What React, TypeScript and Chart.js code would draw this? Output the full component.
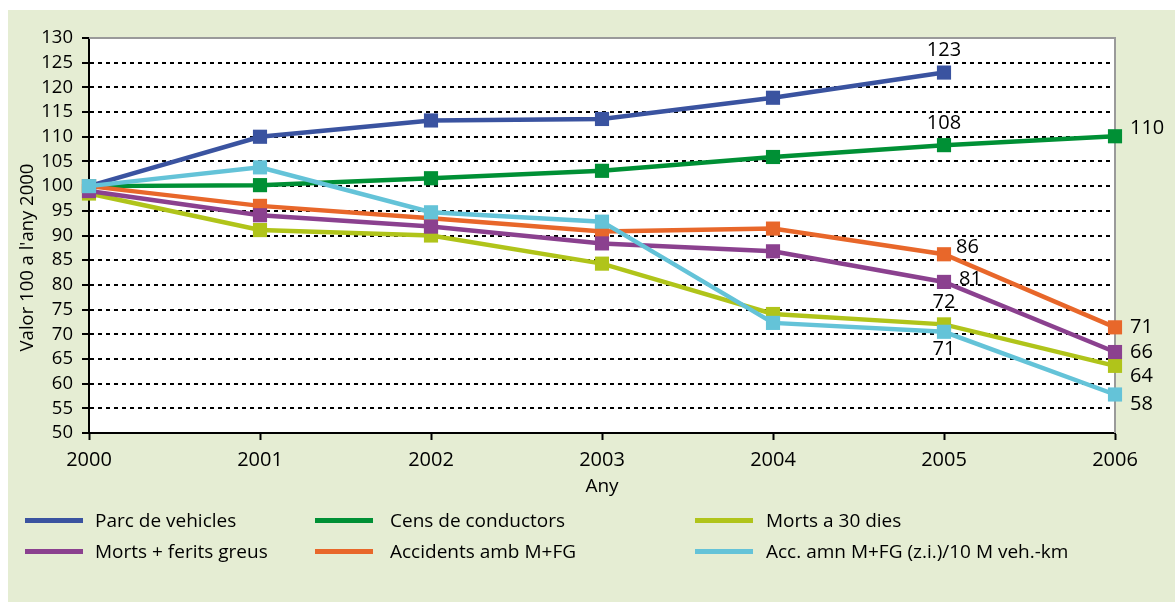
import React, { useEffect, useRef } from "react";
import { Chart, registerables } from "chart.js";

Chart.register(...registerables);

// ---- data ----
const years = ["2000", "2001", "2002", "2003", "2004", "2005", "2006"];
const parcVehicles = [100, 110, 113.3, 113.6, 117.9, 123.0, null];
const censConductors = [100, 100.2, 101.6, 103.1, 105.9, 108.3, 110.1];
const morts30 = [98.5, 91.1, 90.0, 84.3, 74.1, 72.0, 63.6];
const mortsFerits = [99.0, 94.1, 91.8, 88.4, 86.8, 80.6, 66.4];
const accidents = [100, 96.0, 93.5, 90.8, 91.4, 86.2, 71.4];
const accAmn = [100, 103.8, 94.7, 92.8, 72.3, 70.5, 57.8];

const seriesNames = [
  "Parc de vehicles",
  "Cens de conductors",
  "Morts a 30 dies",
  "Morts + ferits greus",
  "Accidents amb M+FG",
  "Acc. amn M+FG (z.i.)/10 M veh.-km",
];
const seriesData = [parcVehicles, censConductors, morts30, mortsFerits, accidents, accAmn];
const seriesColors = ["#3A53A0", "#009035", "#B0C41A", "#8B418F", "#E8672A", "#64C3D8"];
const seriesOrder = [5, 4, 3, 1, 2, 0];

const yMin = 50;
const yMax = 130;
const yStep = 5;
const yTitle = "Valor 100 a l'any 2000";
const xTitle = "Any";

// labels: [series index, point index, placement]
const valueLabels: [number, number, string][] = [
  [0, 5, "above"],
  [1, 5, "above"],
  [1, 6, "right"],
  [4, 5, "rightUp"],
  [3, 5, "rightUp2"],
  [2, 5, "above"],
  [5, 5, "below"],
  [4, 6, "right"],
  [3, 6, "right"],
  [2, 6, "rightDown"],
  [5, 6, "rightDown"],
];

// legend layout: order in grid (row-major, 3 columns)
const legendOrder = [0, 1, 2, 3, 4, 5];

const FONT = "'Open Sans', 'Noto Sans', sans-serif";
const PANEL_BG = "#E5EDD3";
const TEXT = "#000";

export default function App() {
  const canvasRef = useRef<HTMLCanvasElement | null>(null);

  useEffect(() => {
    const canvas = canvasRef.current;
    if (!canvas) return;

    const bgPlugin = {
      id: "plotBg",
      beforeDraw(chart: any) {
        const { ctx, chartArea } = chart;
        ctx.save();
        ctx.fillStyle = "#ffffff";
        ctx.fillRect(chartArea.left, chartArea.top, chartArea.right - chartArea.left, chartArea.bottom - chartArea.top);
        ctx.restore();
      },
      beforeDatasetsDraw(chart: any) {
        const { ctx, chartArea } = chart;
        ctx.save();
        ctx.strokeStyle = "#9a9a9a";
        ctx.lineWidth = 2;
        ctx.beginPath();
        ctx.moveTo(chartArea.left, chartArea.top);
        ctx.lineTo(chartArea.right, chartArea.top);
        ctx.lineTo(chartArea.right, chartArea.bottom);
        ctx.stroke();
        ctx.restore();
      },
      afterDraw(chart: any) {
        const { ctx, chartArea } = chart;
        ctx.save();
        ctx.fillStyle = TEXT;
        ctx.font = `18.5px ${FONT}`;
        ctx.textAlign = "center";
        ctx.textBaseline = "middle";
        ctx.translate(20, (chartArea.top + chartArea.bottom) / 2 + 22);
        ctx.rotate(-Math.PI / 2);
        ctx.fillText(yTitle, 0, 0);
        ctx.restore();
      },
    };

    const labelPlugin = {
      id: "valueLabels",
      afterDatasetsDraw(chart: any) {
        const { ctx } = chart;
        ctx.save();
        ctx.fillStyle = TEXT;
        ctx.font = `20px ${FONT}`;
        ctx.textBaseline = "middle";
        for (const [si, pi, place] of valueLabels) {
          const v = seriesData[si][pi];
          if (v == null) continue;
          const meta = chart.getDatasetMeta(si);
          const pt = meta.data[pi];
          if (!pt) continue;
          const txt = String(Math.round(v as number));
          let x = pt.x;
          let y = pt.y;
          ctx.textAlign = "left";
          if (place === "above") {
            ctx.textAlign = "center";
            y -= 22;
          } else if (place === "below") {
            ctx.textAlign = "center";
            y += 18;
          } else if (place === "right") {
            x += 15;
            if (si === 1) y -= 8;
          } else if (place === "rightUp") {
            x += 12;
            y -= 7;
          } else if (place === "rightUp2") {
            x += 15;
            y -= 3;
          } else if (place === "rightDown") {
            x += 15;
            y += 10;
          }
          ctx.fillText(txt, x, y);
        }
        ctx.restore();
      },
    };

    const chart = new Chart(canvas, {
      type: "line",
      data: {
        labels: years,
        datasets: seriesData.map((d, i) => ({
          label: seriesNames[i],
          data: d,
          borderColor: seriesColors[i],
          backgroundColor: seriesColors[i],
          pointBackgroundColor: seriesColors[i],
          pointBorderColor: seriesColors[i],
          pointBorderWidth: 0,
          pointStyle: "rect",
          pointRadius: 10,
          borderWidth: 4.5,
          tension: 0,
          order: seriesOrder[i],
          clip: false as any,
          spanGaps: false,
        })),
      },
      options: {
        animation: false,
        responsive: false,
        maintainAspectRatio: false,
        layout: { padding: { top: 28, right: 60, bottom: 104, left: 0 } },
        plugins: {
          legend: { display: false },
          tooltip: { enabled: false },
        },
        scales: {
          x: {
            type: "category",
            offset: false,
            grid: {
              drawOnChartArea: false,
              drawTicks: true,
              tickLength: 7,
              tickColor: "#000",
              tickWidth: 2,
              color: "#000",
            },
            border: { display: true, color: "#000", width: 2 },
            ticks: {
              color: TEXT,
              font: { size: 20, family: FONT },
              padding: 8,
              maxRotation: 0,
              autoSkip: false,
            },
            title: {
              display: true,
              text: xTitle,
              color: TEXT,
              font: { size: 19, family: FONT },
              padding: 0,
            },
            afterFit(scale: any) {
              scale.height = 65;
            },
          },
          y: {
            min: yMin,
            max: yMax,
            ticks: {
              stepSize: yStep,
              color: TEXT,
              font: { size: 18.5, family: FONT, lineHeight: 1 },
              padding: 9,
              autoSkip: false,
            },
            grid: {
              drawOnChartArea: true,
              drawTicks: true,
              tickLength: 7,
              tickColor: "#000",
              tickWidth: 2,
              tickBorderDash: [],
              lineWidth: 2,
              color: (ctx: any) => {
                const v = ctx.tick ? ctx.tick.value : null;
                return v === yMin || v === yMax ? "rgba(0,0,0,0)" : "#000";
              },
            },
            border: { display: true, color: "#000", width: 2, dash: [4, 4] },
            afterFit(scale: any) {
              scale.width = 81;
            },
          },
        },
      },
      plugins: [bgPlugin, labelPlugin],
    } as any);

    return () => chart.destroy();
  }, []);

  const legendCols = [
    { sx: 17, tx: 87 },
    { sx: 307, tx: 382 },
    { sx: 687, tx: 758 },
  ];
  const legendRows = [510, 541];

  return (
    <div
      style={{
        position: "absolute",
        left: 8,
        top: 10,
        width: 1167,
        height: 592,
        background: PANEL_BG,
        overflow: "hidden",
        fontFamily: FONT,
      }}
    >
      <canvas ref={canvasRef} width={1167} height={592} style={{ position: "absolute", left: 0, top: 0 }} />
      {legendOrder.map((si, k) => {
        const col = legendCols[k % 3];
        const rowY = legendRows[Math.floor(k / 3)];
        return (
          <React.Fragment key={si}>
            <div
              style={{
                position: "absolute",
                left: col.sx,
                top: rowY - 2.5,
                width: 58,
                height: 5,
                background: seriesColors[si],
              }}
            />
            <div
              style={{
                position: "absolute",
                left: col.tx,
                top: rowY - 12,
                height: 24,
                lineHeight: "24px",
                fontSize: 19,
                color: TEXT,
                whiteSpace: "nowrap",
              }}
            >
              {seriesNames[si]}
            </div>
          </React.Fragment>
        );
      })}
    </div>
  );
}
